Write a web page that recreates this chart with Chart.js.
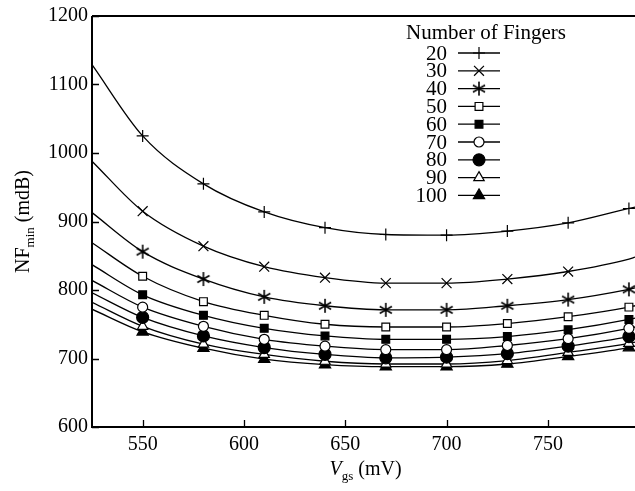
<!DOCTYPE html>
<html>
<head>
<meta charset="utf-8">
<script src="https://cdn.jsdelivr.net/npm/chart.js@4.4.1/dist/chart.umd.min.js"></script>
<style>
  html, body { margin: 0; padding: 0; background: #fff; }
  #wrap { width: 635px; height: 491px; }
</style>
</head>
<body>
<div id="wrap"><canvas id="c" width="635" height="491"></canvas></div>
<script>
// Vgs (mV); first and last entries are where the curves meet the plot edges (no marker)
var vgs = [525, 550, 580, 610, 640, 670, 700, 730, 760, 790, 793];
var fingers = ['20', '30', '40', '50', '60', '70', '80', '90', '100'];
var xTicks = [550, 600, 650, 700, 750];
var yTicks = [600, 700, 800, 900, 1000, 1100, 1200];

// NFmin (mdB) per finger count
var nf20  = [1129, 1025, 955, 914, 891, 881, 880, 886, 898, 919, 921];
var nf30  = [988, 915, 864, 834, 818, 810, 810, 816, 827, 845, 848];
var nf40  = [913, 856, 816, 790, 777, 771, 771, 777, 786, 801, 803];
var nf50  = [869, 820, 783, 763, 750, 746, 746, 751, 761, 775, 777];
var nf60  = [837, 793, 763, 744, 733, 728, 728, 732, 742, 757, 759];
var nf70  = [814, 775, 747, 728, 718, 713, 713, 719, 729, 744, 746];
var nf80  = [796, 760, 733, 716, 706, 701, 702, 707, 718, 732, 734];
var nf90  = [782, 747, 721, 706, 696, 692, 692, 697, 709, 722, 724];
var nf100 = [772, 739, 715, 699, 691, 688, 688, 692, 703, 716, 718];

var SERIES = [nf20, nf30, nf40, nf50, nf60, nf70, nf80, nf90, nf100];
var FONT = "'Liberation Serif', 'Times New Roman', serif";

// six-armed asterisk marker
function asterisk() {
  var c = document.createElement('canvas');
  c.width = 16; c.height = 16;
  var g = c.getContext('2d');
  g.strokeStyle = '#000';
  g.lineWidth = 1.6;
  g.beginPath();
  for (var k = 0; k < 3; k++) {
    var a = Math.PI / 2 + k * Math.PI / 3;
    g.moveTo(8 + 7 * Math.cos(a), 8 + 7 * Math.sin(a));
    g.lineTo(8 - 7 * Math.cos(a), 8 - 7 * Math.sin(a));
  }
  g.stroke();
  return c;
}

var MARKERS = [
  { style: 'cross', r: 6, fill: '#000' },
  { style: 'crossRot', r: 7, fill: '#000' },
  { style: asterisk(), r: 7, fill: '#000' },
  { style: 'rect', r: 5.5, fill: '#fff' },
  { style: 'rect', r: 5.5, fill: '#000' },
  { style: 'circle', r: 5, fill: '#fff' },
  { style: 'circle', r: 6, fill: '#000' },
  { style: 'triangle', r: 6, fill: '#fff' },
  { style: 'triangle', r: 6.5, fill: '#000' },
];

var datasets = SERIES.map(function (vals, i) {
  var m = MARKERS[i];
  var radii = vgs.map(function (v, j) {
    if (j === 0 || j === vgs.length - 1) return 0;
    if (i === 1 && v === 790) return 0; // no x marker at 790 in the original
    return m.r;
  });
  return {
    label: fingers[i],
    data: vgs.map(function (v, j) { return { x: v, y: vals[j] }; }),
    borderColor: '#000',
    borderWidth: 1.3,
    cubicInterpolationMode: 'monotone',
    pointStyle: m.style,
    pointRadius: radii,
    pointHoverRadius: radii,
    pointBackgroundColor: m.fill,
    pointBorderColor: '#000',
    pointBorderWidth: 1.2,
    fill: false,
  };
});

var framePlugin = {
  id: 'frame',
  afterDraw: function (chart) {
    var ctx = chart.ctx;
    var a = chart.chartArea;
    var xs = chart.scales.x, ys = chart.scales.y;
    ctx.save();
    ctx.strokeStyle = '#000';
    ctx.lineWidth = 2;
    ctx.beginPath();
    ctx.moveTo(a.left, a.top); ctx.lineTo(635, a.top);
    ctx.moveTo(a.left, a.top); ctx.lineTo(a.left, a.bottom); ctx.lineTo(635, a.bottom);
    ctx.stroke();
    // inward ticks
    ctx.lineWidth = 1.3;
    ctx.beginPath();
    xTicks.forEach(function (v) {
      var px = Math.round(xs.getPixelForValue(v)) + 0.5;
      ctx.moveTo(px, a.bottom); ctx.lineTo(px, a.bottom - 7);
    });
    yTicks.forEach(function (v) {
      var py = Math.round(ys.getPixelForValue(v)) + 0.5;
      ctx.moveTo(a.left, py); ctx.lineTo(a.left + 7, py);
    });
    ctx.stroke();

    // axis titles
    ctx.fillStyle = '#000';
    ctx.textBaseline = 'alphabetic';
    ctx.font = 'italic 20px ' + FONT;
    var wV = ctx.measureText('V').width;
    ctx.font = '13px ' + FONT;
    var wgs = ctx.measureText('gs').width;
    ctx.font = '20px ' + FONT;
    var wmv = ctx.measureText(' (mV)').width;
    var x0 = (a.left + a.right) / 2 - (wV + wgs + wmv) / 2 + 2;
    var by = 475;
    ctx.textAlign = 'left';
    ctx.font = 'italic 20px ' + FONT;
    ctx.fillText('V', x0, by);
    ctx.font = '13px ' + FONT;
    ctx.fillText('gs', x0 + wV, by + 5);
    ctx.font = '20px ' + FONT;
    ctx.fillText(' (mV)', x0 + wV + wgs, by);

    ctx.save();
    ctx.translate(29, (a.top + a.bottom) / 2);
    ctx.rotate(-Math.PI / 2);
    ctx.font = '20px ' + FONT;
    var wNF = ctx.measureText('NF').width;
    var wmdb = ctx.measureText(' (mdB)').width;
    ctx.font = '13px ' + FONT;
    var wmin = ctx.measureText('min').width;
    var s0 = -(wNF + wmin + wmdb) / 2;
    ctx.font = '20px ' + FONT;
    ctx.fillText('NF', s0, 0);
    ctx.font = '13px ' + FONT;
    ctx.fillText('min', s0 + wNF, 5);
    ctx.font = '20px ' + FONT;
    ctx.fillText(' (mdB)', s0 + wNF + wmin, 0);
    ctx.restore();

    // legend
    ctx.font = '21px ' + FONT;
    ctx.textAlign = 'center';
    ctx.textBaseline = 'middle';
    ctx.fillText('Number of Fingers', 486, 33);
    ctx.textAlign = 'right';
    fingers.forEach(function (f, i) {
      var y = 53 + i * 17.8;
      ctx.fillStyle = '#000';
      ctx.fillText(f, 447, y + 1);
      ctx.strokeStyle = '#000';
      ctx.lineWidth = 1.3;
      ctx.beginPath();
      ctx.moveTo(458, y); ctx.lineTo(500, y);
      ctx.stroke();
      var m = MARKERS[i];
      ctx.fillStyle = m.fill;
      ctx.lineWidth = 1.2;
      Chart.helpers.drawPoint(ctx, { pointStyle: m.style, radius: m.r, rotation: 0, borderWidth: 1.2 }, 479, y);
    });
    ctx.restore();
  }
};

new Chart(document.getElementById('c'), {
  type: 'line',
  data: { datasets: datasets },
  options: {
    responsive: false,
    animation: false,
    layout: { padding: { top: 14, right: 0, left: 0, bottom: 0 } },
    plugins: { legend: { display: false }, tooltip: { enabled: false } },
    scales: {
      x: {
        type: 'linear',
        min: 525,
        max: 793,
        afterBuildTicks: function (s) { s.ticks = xTicks.map(function (v) { return { value: v }; }); },
        afterFit: function (s) { s.height = 64; },
        grid: { display: false, drawTicks: false },
        border: { display: false },
        ticks: {
          color: '#000', padding: 6, maxRotation: 0, font: { family: FONT, size: 20 },
          callback: function (v) { return String(v); },
        },
      },
      y: {
        min: 600,
        max: 1200,
        afterBuildTicks: function (s) { s.ticks = yTicks.map(function (v) { return { value: v }; }); },
        afterFit: function (s) { s.width = 92; },
        grid: { display: false, drawTicks: false },
        border: { display: false },
        ticks: {
          color: '#000', padding: 4, font: { family: FONT, size: 20 },
          callback: function (v) { return String(v); },
        },
      },
    },
  },
  plugins: [framePlugin],
});
</script>
</body>
</html>
